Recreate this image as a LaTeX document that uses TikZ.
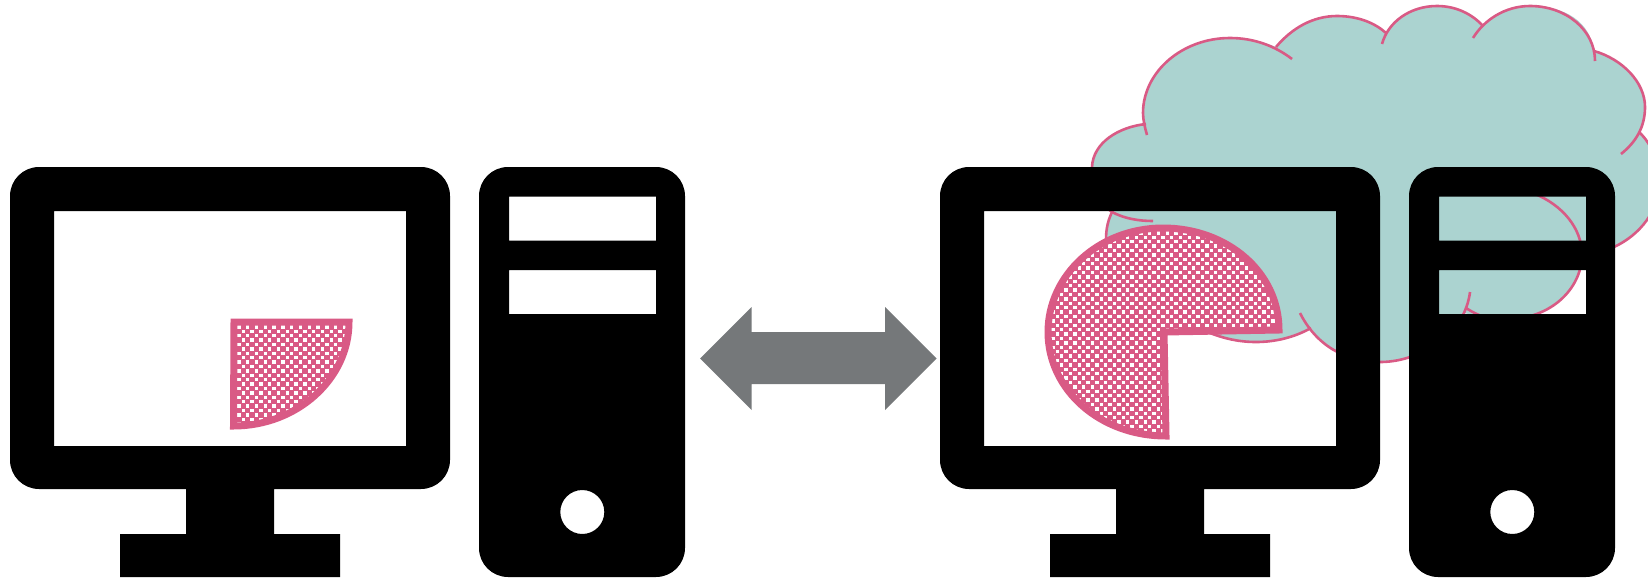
\documentclass[tikz,border=0pt]{standalone}
\definecolor{cloudfill}{HTML}{ABD3D0}
\definecolor{pinkline}{HTML}{D95A85}
\definecolor{arrowgrey}{HTML}{75787A}
\tikzset{
  x=1pt,y=-1pt,
  frame/.style={fill=black,even odd rule},
  cloudline/.style={draw=pinkline,line width=2.6pt,line cap=butt},
  pieline/.style={draw=pinkline,line width=7pt,line join=miter},
  dbl/.style={fill=arrowgrey}
}
\newcommand{\monitor}[1]{%
  \begin{scope}[xshift=#1 pt]
    \fill[frame]
      (39,167) -- (421,167) .. controls (437,167) and (450,180) .. (450,196)
      -- (450,460) .. controls (450,476) and (437,489) .. (421,489)
      -- (274,489) -- (274,534) -- (340,534) -- (340,577) -- (120,577) -- (120,534) -- (186,534) -- (186,489)
      -- (39,489) .. controls (23,489) and (10,476) .. (10,460)
      -- (10,196) .. controls (10,180) and (23,167) .. (39,167) -- cycle
      (54,211) -- (406,211) -- (406,446) -- (54,446) -- cycle;
  \end{scope}}
\newcommand{\tower}[1]{%
  \begin{scope}[xshift=#1 pt]
    \fill[frame]
      (508,167) -- (656,167) .. controls (672,167) and (685,180) .. (685,196)
      -- (685,548) .. controls (685,564) and (672,577) .. (656,577)
      -- (508,577) .. controls (492,577) and (479,564) .. (479,548)
      -- (479,196) .. controls (479,180) and (492,167) .. (508,167) -- cycle
      (509,196.5) -- (656,196.5) -- (656,240.5) -- (509,240.5) -- cycle
      (509,270) -- (656,270) -- (656,314) -- (509,314) -- cycle
      (582.3,512) circle[radius=22];
  \end{scope}}
% pink/white mesh inside a clip already in force
\newcommand{\mesh}[4]{%
  \fill[pinkline] (#1,#2) rectangle (#3,#4);
  \pgfmathtruncatemacro{\nx}{(#3-#1)/4.4}%
  \pgfmathtruncatemacro{\ny}{(#4-#2)/4.4}%
  \foreach \i in {0,...,\nx}{\foreach \j in {0,...,\ny}{%
    \pgfmathtruncatemacro{\oddeven}{mod(\i+\j,2)}%
    \ifnum\oddeven=0
      \fill[white] ({#1+\i*4.4-1.7},{#2+\j*4.4-1.7}) rectangle +(3.4,3.4);
    \fi
  }}}
\begin{document}
\begin{tikzpicture}
\useasboundingbox (0,0) rectangle (1648,581);
% cloud fill
\fill[cloudfill] (1143,124) -- (1143,113) .. controls (1143,72) and (1182,38) .. (1230,38)
  .. controls (1245,38) and (1262,41) .. (1276,47)
  .. controls (1292,28) and (1313,16) .. (1337,16)
  .. controls (1358,16) and (1375,23) .. (1386,33)
  .. controls (1395,16) and (1415,6) .. (1437,6)
  .. controls (1456,6) and (1472,14) .. (1483,26)
  .. controls (1494,14) and (1510,6) .. (1530,6)
  .. controls (1566,6) and (1590,22) .. (1594,51)
  .. controls (1622,59) and (1645,82) .. (1645,107)
  .. controls (1645,116) and (1643,124) .. (1639,132)
  .. controls (1652,144) and (1660,165) .. (1660,180)
  .. controls (1660,210) and (1640,235) .. (1614,247)
  -- (1582,255) .. controls (1582,283) and (1558,318) .. (1505,320)
  .. controls (1490,320) and (1478,316) .. (1464,313)
  .. controls (1445,345) and (1412,362) .. (1380,362)
  .. controls (1352,362) and (1325,350) .. (1311,328)
  .. controls (1295,337) and (1276,342) .. (1256,342)
  .. controls (1240,342) and (1224,339) .. (1210,333)
  -- (1130,300) -- (1106,237)
  .. controls (1106,228) and (1108,220) .. (1112,212)
  .. controls (1100,204) and (1092,190) .. (1092,167)
  .. controls (1093,143) and (1118,127) .. (1143,124) -- cycle;
% cloud outline arcs
\draw[cloudline] (1147,135) .. controls (1145,128) and (1143,120) .. (1143,113)
  .. controls (1143,72) and (1182,38) .. (1230,38)
  .. controls (1254,38) and (1275,46) .. (1292,59);
\draw[cloudline] (1276,47) .. controls (1292,28) and (1313,16) .. (1337,16)
  .. controls (1358,16) and (1375,23) .. (1386,33);
\draw[cloudline] (1382,44) .. controls (1388,22) and (1410,6) .. (1437,6)
  .. controls (1456,6) and (1472,14) .. (1483,26);
\draw[cloudline] (1473,38) .. controls (1484,20) and (1505,6) .. (1530,6)
  .. controls (1566,6) and (1595,30) .. (1595,61);
\draw[cloudline] (1594,51) .. controls (1622,59) and (1645,82) .. (1645,107)
  .. controls (1645,127) and (1636,142) .. (1621,154);
\draw[cloudline] (1639,132) .. controls (1652,144) and (1660,165) .. (1660,180)
  .. controls (1660,210) and (1640,235) .. (1614,247);
\draw[cloudline] (1535,194) .. controls (1562,205) and (1582,228) .. (1582,255)
  .. controls (1582,283) and (1558,318) .. (1505,320)
  .. controls (1490,320) and (1478,316) .. (1466,308);
\draw[cloudline] (1470,292) .. controls (1469,300) and (1467,306) .. (1464,313)
  .. controls (1445,345) and (1412,362) .. (1380,362)
  .. controls (1345,362) and (1316,345) .. (1300,313);
\draw[cloudline] (1311,328) .. controls (1295,337) and (1276,342) .. (1256,342)
  .. controls (1240,342) and (1224,339) .. (1205,331);
\draw[cloudline] (1106,240) .. controls (1106,228) and (1108,220) .. (1113,210);
\draw[cloudline] (1146,124) .. controls (1118,127) and (1093,143) .. (1092,167)
  .. controls (1092,190) and (1100,204) .. (1112,212)
  .. controls (1125,219) and (1140,221) .. (1153,221);
% computers
\monitor{0}\tower{0}
\monitor{930}\tower{930}
% arrow
\fill[dbl] (700,358.5) -- (751.5,307) -- (751.5,332) -- (885,332) -- (885,307) -- (936.5,358.5)
  -- (885,410) -- (885,384) -- (751.5,384) -- (751.5,410) -- cycle;
% small pie
\begin{scope}
  \clip (234,322) -- (349,322) .. controls (349,379) and (297,426) .. (233.5,426) -- cycle;
  \mesh{230}{318}{352}{430}
\end{scope}
\draw[pieline] (234,322) -- (349,322) .. controls (349,379) and (297,426) .. (233.5,426) -- cycle;
% large pie
\begin{scope}
  \clip (1279,330) .. controls (1279,272) and (1227,228) .. (1163,228)
    .. controls (1099,228) and (1048,275) .. (1048,332)
    .. controls (1048,390) and (1100,436) .. (1166,436)
    -- (1164,332) -- cycle;
  \mesh{1044}{224}{1284}{440}
\end{scope}
\draw[pieline] (1279,330) .. controls (1279,272) and (1227,228) .. (1163,228)
    .. controls (1099,228) and (1048,275) .. (1048,332)
    .. controls (1048,390) and (1100,436) .. (1166,436)
    -- (1164,332) -- cycle;
\end{tikzpicture}
\end{document}
